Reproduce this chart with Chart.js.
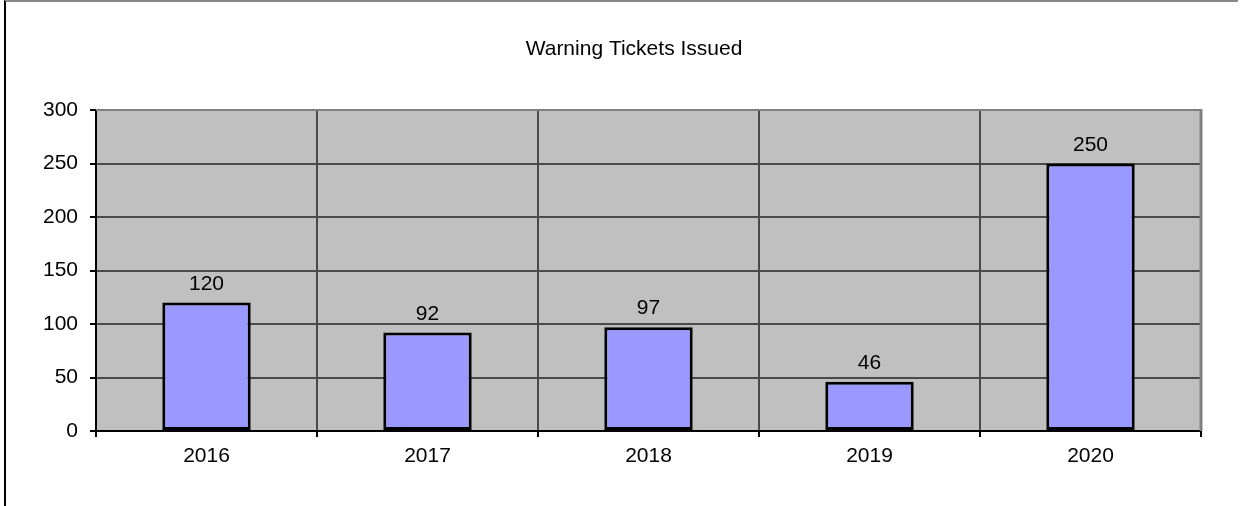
<!DOCTYPE html>
<html>
<head>
<meta charset="utf-8">
<script src="https://cdn.jsdelivr.net/npm/chart.js@4/dist/chart.umd.min.js"></script>
<style>
html,body{margin:0;padding:0;background:#fff;}
#wrap{position:relative;width:1241px;height:506px;}
#frame{position:absolute;left:4px;top:0;width:1234px;height:506px;border-left:2px solid #000;border-top:2px solid #888;box-sizing:border-box;pointer-events:none;}
</style>
</head>
<body>
<div id="wrap">
  <canvas id="chart"></canvas>
  <div id="frame"></div>
</div>
<script>
const years=["2016","2017","2018","2019","2020"];
const tickets=[120,92,97,46,250];
const chartTitle="Warning Tickets Issued";
const yMin=0, yMax=300, yStep=50;

const font="'Liberation Sans', Arial, sans-serif";

// grey plot area with the darker top/right frame
const plotBack={
    id:"plotBack",
    beforeDraw(c){
        let a=c.chartArea, ctx=c.ctx;
        ctx.save();
        ctx.fillStyle="#c0c0c0";
        ctx.fillRect(a.left,a.top,a.right-a.left,a.bottom-a.top);
        ctx.restore();
    },
    afterDraw(c){
        let a=c.chartArea, ctx=c.ctx;
        ctx.save();
        ctx.strokeStyle="#808080";
        ctx.lineWidth=2;
        ctx.beginPath();
        ctx.moveTo(a.left,a.top);
        ctx.lineTo(a.right,a.top);
        ctx.stroke();
        ctx.lineWidth=3;
        ctx.beginPath();
        ctx.moveTo(a.right,a.top-1);
        ctx.lineTo(a.right,a.bottom);
        ctx.stroke();

        // title, centred a little left of the plot centre like the original
        ctx.fillStyle="#000";
        ctx.font="21px "+font;
        ctx.textAlign="center";
        ctx.textBaseline="middle";
        ctx.fillText(chartTitle,(67+a.right)/2,49);
        ctx.restore();
    }
};

const barLabels={
    id:"barLabels",
    afterDatasetsDraw(c){
        let ctx=c.ctx;
        let meta=c.getDatasetMeta(0);
        ctx.save();
        ctx.fillStyle="#000";
        ctx.font="21px "+font;
        ctx.textAlign="center";
        ctx.textBaseline="alphabetic";
        meta.data.forEach((el,i)=>{
            ctx.fillText(String(tickets[i]),el.x,el.y-13);
        });
        ctx.restore();
    }
};

new Chart(document.getElementById("chart"),{
    type:"bar",
    data:{
        labels:years,
        datasets:[{
            data:tickets,
            backgroundColor:"#9999ff",
            borderColor:"#000",
            borderWidth:3,
            borderSkipped:false,
            categoryPercentage:1,
            barPercentage:0.4
        }]
    },
    options:{
        responsive:true,
        maintainAspectRatio:false,
        animation:false,
        layout:{padding:{left:0,right:40,top:110,bottom:0}},
        plugins:{
            legend:{display:false},
            tooltip:{enabled:false},
            title:{display:false}
        },
        scales:{
            x:{
                offset:true,
                grid:{
                    offset:true,
                    color:"#4a4a4a",
                    lineWidth:2,
                    tickColor:"#000",
                    tickLength:6
                },
                border:{color:"#000",width:2},
                ticks:{color:"#000",padding:7,font:{family:font,size:21}},
                afterFit(s){s.height=75;}
            },
            y:{
                min:yMin,
                max:yMax,
                grid:{
                    color:"#4a4a4a",
                    lineWidth:2,
                    tickColor:"#000",
                    tickLength:6
                },
                border:{color:"#000",width:2},
                ticks:{stepSize:yStep,color:"#000",padding:12,font:{family:font,size:21}},
                afterFit(s){s.width=96;}
            }
        }
    },
    plugins:[plotBack,barLabels]
});
</script>
</body>
</html>
